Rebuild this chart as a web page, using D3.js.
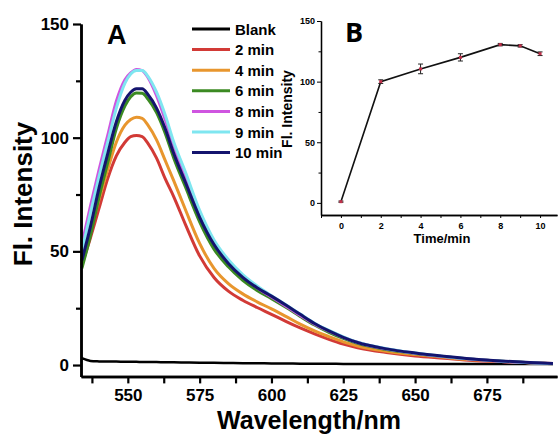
<html>
<head>
<meta charset="utf-8">
<style type="text/css">
    body {margin: 0; background: #fff;}
    text {font-family: "Liberation Sans", Arial, sans-serif; font-weight: bold;}
</style>
</head>
<body>
<script src="https://d3js.org/d3.v7.min.js"></script>
<script>
    // spectra (wavelength in nm)
    var wavelengths = [534,537,540,543,546,549,551,553,555,557,560,563,566,570,575,580,585,590,595,600,605,610,615,620,625,630,640,650,660,670,680,690,698];
    var blank  = [3.0,1.8,1.6,1.5,1.5,1.4,1.4,1.4,1.3,1.3,1.3,1.2,1.2,1.1,1.0,1.0,0.9,0.8,0.8,0.7,0.7,0.6,0.6,0.6,0.5,0.5,0.5,0.5,0.4,0.4,0.4,0.4,0.4];
    var min2   = [44,56,69,82,92,98,100.5,101,100.5,97.5,91,82,74,62,48,38.5,32.5,28.5,25.3,22.3,19.2,16.3,13.7,11.3,9.2,7.6,5.5,4,3,2,1.5,1,0.7];
    var min4   = [44,59,73,86,98,105.5,108,109,108.5,105.5,99,90,81,68.5,53.5,42.5,35.8,31.3,27.8,24.7,21.4,18,15,12.5,10.2,8.4,6.1,4.6,3.4,2.3,1.6,1,0.6];
    var min6   = [42.5,57,74,89,104,114,118,119.7,119.5,117,111,102,91,78.5,63,51,43.2,37.3,32.8,29.2,25.4,21.4,17.6,14.4,11.7,9.5,6.8,5.1,3.7,2.6,1.7,1,0.6];
    var min8   = [53,70,86,101,116,125.5,128.5,130,129.5,126.5,118.5,108,96.5,83,66.5,54,45.3,39,34,29.9,25.9,21.8,18,14.9,12.2,9.9,7.1,5.2,3.7,2.5,1.6,1,0.6];
    var min9   = [50,67,83,98,113,124,128,129.5,129.5,127,120,110,98,85,68,55,46.3,39.8,34.8,30.5,26.5,22.4,18.4,15.2,12.4,10,7.2,5.3,3.8,2.6,1.7,1,0.6];
    var min10  = [46,61,78,93,107,116.5,120,121.5,121.5,119,113,104,93,80.5,65,53,44.7,38.6,34,30.3,26.4,22.3,18.3,15,12.2,9.9,7.1,5.3,3.9,2.7,1.8,1.1,0.7];
    var seriesNames = ["Blank","2 min","4 min","6 min","8 min","9 min","10 min"];
    var seriesColors = ["#000000","#d23a36","#e8962e","#3b8a22","#cf55e0","#7fe6f0","#14146e"];
    var xTicks = [550,575,600,625,650,675];
    var yTicks = [0,50,100,150];

    // panel B
    var times = [0,2,4,6,8,9,10];
    var intensity = [1,100,110.5,120,130.5,129.5,123];
    var errors = [0.5,1.5,4,3,1,1,1.5];
    var bxTicks = [0,2,4,6,8,10];
    var byTicks = [0,50,100,150];

    var W = 559, H = 434;
    var svg = d3.select("body").append("svg").attr("width",W).attr("height",H);

    var x = d3.scaleLinear().domain([533.7,699.4]).range([81,557]);
    var y = d3.scaleLinear().domain([-5,150]).range([376.4,24]);

    var allSeries = [blank,min2,min4,min6,min8,min9,min10];
    var line = d3.line()
        .x(function(d,i){ return x(wavelengths[i]); })
        .y(function(d){ return y(d); })
        .curve(d3.curveMonotoneX);

    svg.selectAll("path.spec")
        .data(allSeries)
        .enter()
        .append("path")
        .attr("class","spec")
        .attr("d",function(d){ return line(d); })
        .attr("fill","none")
        .attr("stroke",function(d,i){ return seriesColors[i]; })
        .attr("stroke-width",function(d,i){ return i==0 ? 2.5 : 3; });

    // axes A
    svg.append("g").attr("transform","translate(81,0)")
        .call(d3.axisLeft(y).tickValues(yTicks).tickSize(8).tickSizeOuter(0).tickPadding(4));
    svg.append("g").attr("transform","translate(81,0)")
        .call(d3.axisLeft(y).tickValues([25,75,125]).tickSize(5).tickSizeOuter(0).tickFormat(""));
    svg.append("g").attr("transform","translate(0,376.4)")
        .call(d3.axisBottom(x).tickValues(xTicks).tickSize(7).tickSizeOuter(0).tickPadding(6));
    svg.append("g").attr("transform","translate(0,376.4)")
        .call(d3.axisBottom(x).tickValues([537.5,562.5,587.5,612.5,637.5,662.5,687.5]).tickSize(7).tickSizeOuter(0).tickFormat(""));
    svg.selectAll("g .domain").attr("stroke-width",2.5);
    svg.selectAll("g .tick line").attr("stroke-width",2.2);
    svg.selectAll("g .tick text").attr("font-size","17px").attr("fill","#000")
        .style("font-family","Liberation Sans, Arial").style("font-weight","bold");

    svg.append("text")
        .attr("transform","translate(32,194) rotate(-90)")
        .attr("text-anchor","middle").attr("font-size","26px")
        .text("Fl. Intensity");
    svg.append("text")
        .attr("x",309).attr("y",428.5)
        .attr("text-anchor","middle").attr("font-size","25px")
        .text("Wavelength/nm");
    svg.append("text").attr("x",107).attr("y",44).attr("font-size","27px").text("A");

    // legend
    var lg = svg.selectAll("g.leg")
        .data(seriesNames)
        .enter()
        .append("g")
        .attr("class","leg")
        .attr("transform",function(d,i){ return "translate(0," + (29 + i*20.6) + ")"; });
    lg.append("line").attr("x1",192).attr("x2",230).attr("y1",0).attr("y2",0)
        .attr("stroke",function(d,i){ return seriesColors[i]; })
        .attr("stroke-width",3);
    lg.append("text").attr("x",235).attr("y",5.5).attr("font-size","15px")
        .text(function(d){ return d; });

    // inset B
    var inset = svg.append("g");
    inset.append("rect").attr("x",285).attr("y",0).attr("width",W-285).attr("height",250).attr("fill","#fff");

    var bx = d3.scaleLinear().domain([-1,10.85]).range([321,557]);
    var by = d3.scaleLinear().domain([-10,150]).range([215,21]);

    inset.append("g").attr("transform","translate(321,0)")
        .call(d3.axisLeft(by).tickValues(byTicks).tickSize(4).tickSizeOuter(0).tickPadding(2));
    inset.append("g").attr("transform","translate(321,0)")
        .call(d3.axisLeft(by).tickValues([25,75,125]).tickSize(2.5).tickSizeOuter(0).tickFormat(""));
    inset.append("g").attr("transform","translate(0,215)")
        .call(d3.axisBottom(bx).tickValues(bxTicks).tickSize(3).tickSizeOuter(0).tickPadding(5));
    inset.append("g").attr("transform","translate(0,215)")
        .call(d3.axisBottom(bx).tickValues([-1,1,3,5,7,9]).tickSize(3).tickSizeOuter(0).tickFormat(""));
    inset.selectAll(".domain").attr("stroke-width",1.3);
    inset.selectAll(".tick line").attr("stroke-width",1);
    inset.selectAll(".tick text").attr("font-size","9px").attr("fill","#000")
        .style("font-family","Liberation Sans, Arial").style("font-weight","bold");

    var bline = d3.line()
        .x(function(d,i){ return bx(times[i]); })
        .y(function(d){ return by(d); });
    inset.append("path").attr("d",bline(intensity))
        .attr("fill","none").attr("stroke","#111").attr("stroke-width",1.6);

    var eb = inset.selectAll("g.err")
        .data(intensity)
        .enter()
        .append("g")
        .attr("class","err");
    eb.append("line")
        .attr("x1",function(d,i){ return bx(times[i]); })
        .attr("x2",function(d,i){ return bx(times[i]); })
        .attr("y1",function(d,i){ return by(d - errors[i]); })
        .attr("y2",function(d,i){ return by(d + errors[i]); })
        .attr("stroke","#222").attr("stroke-width",1);
    [-1,1].forEach(function(s){
        eb.append("line")
            .attr("x1",function(d,i){ return bx(times[i]) - 2.5; })
            .attr("x2",function(d,i){ return bx(times[i]) + 2.5; })
            .attr("y1",function(d,i){ return by(d + s*errors[i]); })
            .attr("y2",function(d,i){ return by(d + s*errors[i]); })
            .attr("stroke","#222").attr("stroke-width",1);
    });
    eb.append("rect")
        .attr("x",function(d,i){ return bx(times[i]) - 1.5; })
        .attr("y",function(d){ return by(d) - 1.5; })
        .attr("width",3).attr("height",3)
        .attr("fill","#c0304a");

    inset.append("text")
        .attr("transform","translate(292,109) rotate(-90)")
        .attr("text-anchor","middle").attr("font-size","14px")
        .text("Fl. Intensity");
    inset.append("text")
        .attr("x",442).attr("y",243)
        .attr("text-anchor","middle").attr("font-size","13px")
        .text("Time/min");
    inset.append("text").attr("x",345).attr("y",42)
        .attr("font-size","27px")
        .style("font-family","Open Sans, Liberation Sans, sans-serif")
        .text("B");
</script>
</body>
</html>
